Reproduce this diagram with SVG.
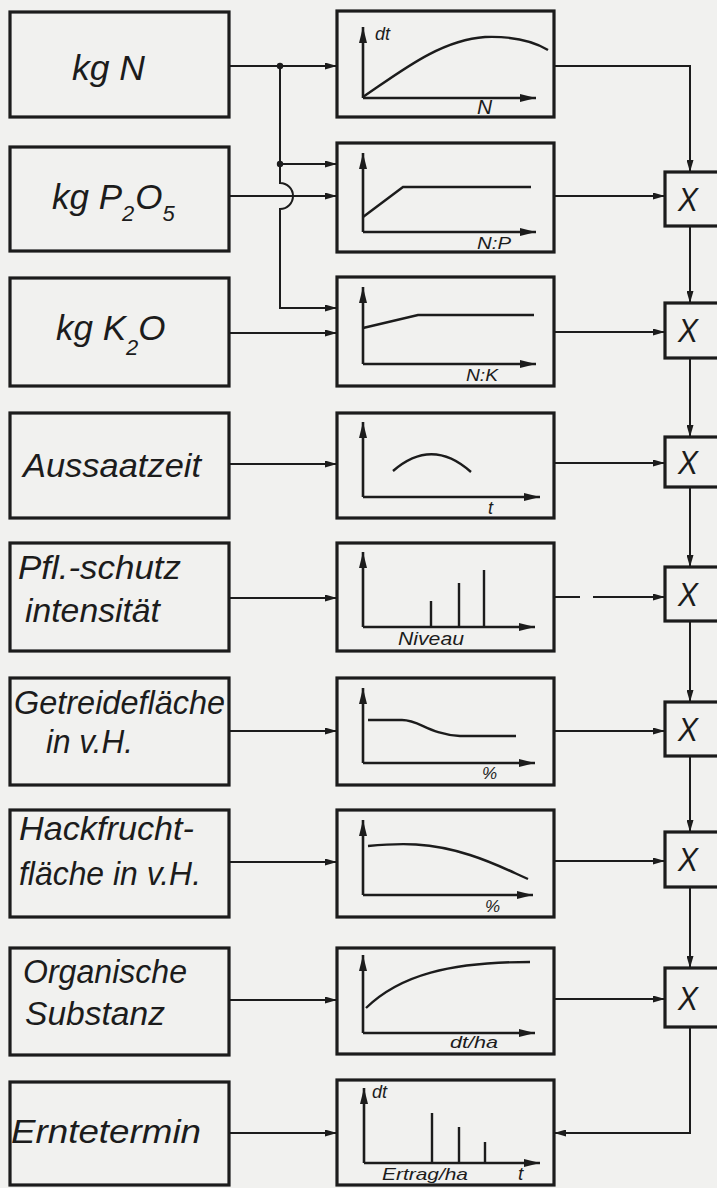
<svg xmlns="http://www.w3.org/2000/svg" width="717" height="1188" viewBox="0 0 717 1188">
<style>
.box{fill:none;stroke:#1c1c1c;stroke-width:3.2}
.t{font-family:"Liberation Sans",Arial,sans-serif;font-style:italic;fill:#1c1c1c}
.big{font-size:35px}
.mid{font-size:33px}
.sm{font-size:16px}
.conn{fill:none;stroke:#1c1c1c;stroke-width:2}
.ax{fill:none;stroke:#1c1c1c;stroke-width:2.6}
.crv{fill:none;stroke:#1c1c1c;stroke-width:2.4}
</style>
<defs>
<marker id="ah" viewBox="0 0 12 7" refX="12" refY="3.5" markerWidth="12" markerHeight="7" markerUnits="userSpaceOnUse" orient="auto"><path d="M0,0 L12,3.5 L0,7 z" fill="#1c1c1c"/></marker>
<marker id="axh" viewBox="0 0 16 8" refX="16" refY="4" markerWidth="16" markerHeight="8" markerUnits="userSpaceOnUse" orient="auto"><path d="M0,0 L16,4 L0,8 z" fill="#1c1c1c"/></marker>
</defs>
<rect width="717" height="1188" fill="#f1f1ef"/>

<g id="connectors">
<path class="conn" d="M229,66 H337" marker-end="url(#ah)"/>
<path class="conn" d="M280,66 V183 A13,13 0 0 1 280,209 V308 H337" marker-end="url(#ah)"/>
<path class="conn" d="M280,164 H337" marker-end="url(#ah)"/>
<circle cx="280" cy="66" r="3.2" fill="#1c1c1c"/>
<circle cx="280" cy="164" r="3.2" fill="#1c1c1c"/>
<path class="conn" d="M229,196 H337" marker-end="url(#ah)"/>
<path class="conn" d="M229,333 H337" marker-end="url(#ah)"/>
<path class="conn" d="M229,464 H337" marker-end="url(#ah)"/>
<path class="conn" d="M229,598 H337" marker-end="url(#ah)"/>
<path class="conn" d="M229,731 H337" marker-end="url(#ah)"/>
<path class="conn" d="M229,862 H337" marker-end="url(#ah)"/>
<path class="conn" d="M229,1000 H337" marker-end="url(#ah)"/>
<path class="conn" d="M229,1133 H337" marker-end="url(#ah)"/>

<path class="conn" d="M554,66 H690 V172" marker-end="url(#ah)"/>
<path class="conn" d="M554,196 H665" marker-end="url(#ah)"/>
<path class="conn" d="M554,332 H665" marker-end="url(#ah)"/>
<path class="conn" d="M554,463 H665" marker-end="url(#ah)"/>
<path class="conn" d="M554,597 H580"/>
<path class="conn" d="M593,597 H665" marker-end="url(#ah)"/>
<path class="conn" d="M554,731 H665" marker-end="url(#ah)"/>
<path class="conn" d="M554,861 H665" marker-end="url(#ah)"/>
<path class="conn" d="M554,999 H665" marker-end="url(#ah)"/>

<path class="conn" d="M690,226 V303" marker-end="url(#ah)"/>
<path class="conn" d="M690,358 V437" marker-end="url(#ah)"/>
<path class="conn" d="M690,487 V567" marker-end="url(#ah)"/>
<path class="conn" d="M690,621 V702" marker-end="url(#ah)"/>
<path class="conn" d="M690,756 V832" marker-end="url(#ah)"/>
<path class="conn" d="M690,887 V968" marker-end="url(#ah)"/>
<path class="conn" d="M690,1027 V1133 H554" marker-end="url(#ah)"/>
</g>

<!-- input boxes -->
<g id="in-n"><rect class="box" x="10" y="12" width="219" height="105"/><text class="t big" x="72" y="80" textLength="73" lengthAdjust="spacingAndGlyphs">kg N</text></g>
<g id="in-p"><rect class="box" x="10" y="147" width="219" height="104"/><text class="t big" x="52" y="209">kg P<tspan dy="12" font-size="22">2</tspan><tspan dy="-12" dx="1">O</tspan><tspan dy="12" font-size="22">5</tspan></text></g>
<g id="in-k"><rect class="box" x="10" y="278" width="219" height="108"/><text class="t big" x="56" y="340">kg K<tspan dy="15" font-size="22">2</tspan><tspan dy="-15">O</tspan></text></g>
<g id="in-aussaat"><rect class="box" x="10" y="413" width="219" height="105"/><text class="t mid" x="23" y="477" textLength="178" lengthAdjust="spacingAndGlyphs">Aussaatzeit</text></g>
<g id="in-pfl"><rect class="box" x="10" y="543" width="219" height="108"/><text class="t mid" x="18" y="579" textLength="163" lengthAdjust="spacingAndGlyphs">Pfl.-schutz</text><text class="t mid" x="25" y="622" textLength="135" lengthAdjust="spacingAndGlyphs">intensität</text></g>
<g id="in-getreide"><rect class="box" x="10" y="678" width="219" height="107"/><text class="t mid" x="14" y="714" textLength="211" lengthAdjust="spacingAndGlyphs">Getreidefläche</text><text class="t mid" x="46" y="753" textLength="87" lengthAdjust="spacingAndGlyphs">in v.H.</text></g>
<g id="in-hack"><rect class="box" x="10" y="810" width="219" height="107"/><text class="t mid" x="19" y="840" textLength="175" lengthAdjust="spacingAndGlyphs">Hackfrucht-</text><text class="t mid" x="19" y="885" textLength="182" lengthAdjust="spacingAndGlyphs">fläche in v.H.</text></g>
<g id="in-org"><rect class="box" x="10" y="948" width="219" height="107"/><text class="t mid" x="23" y="983" textLength="164" lengthAdjust="spacingAndGlyphs">Organische</text><text class="t mid" x="25" y="1025" textLength="140" lengthAdjust="spacingAndGlyphs">Substanz</text></g>
<g id="in-ernte"><rect class="box" x="10" y="1082" width="219" height="103"/><text class="t mid" x="11" y="1143" textLength="190" lengthAdjust="spacingAndGlyphs">Erntetermin</text></g>

<!-- function boxes -->
<g id="f-n"><rect class="box" x="337" y="11" width="217" height="106"/>
<path class="ax" d="M363,98 V27" marker-end="url(#axh)"/><path class="ax" d="M363,98 H536" marker-end="url(#axh)"/>
<path class="crv" d="M363,97 C400,72 440,40 485,37 C515,36 535,42 548,50"/>
<text class="t" font-size="18" x="375" y="40">dt</text><text class="t" font-size="21" x="477" y="114">N</text></g>
<g id="f-np"><rect class="box" x="337" y="143" width="217" height="109"/>
<path class="ax" d="M363,232 V153" marker-end="url(#axh)"/><path class="ax" d="M363,232 H536" marker-end="url(#axh)"/>
<path class="crv" d="M363,217 L403,187 H531"/>
<text class="t sm" x="477" y="249" textLength="34" lengthAdjust="spacingAndGlyphs">N:P</text></g>
<g id="f-nk"><rect class="box" x="337" y="277" width="217" height="109"/>
<path class="ax" d="M363,364 V287" marker-end="url(#axh)"/><path class="ax" d="M363,364 H536" marker-end="url(#axh)"/>
<path class="crv" d="M363,328 L418,315 H534"/>
<text class="t sm" x="466" y="381" textLength="32" lengthAdjust="spacingAndGlyphs">N:K</text></g>
<g id="f-t"><rect class="box" x="337" y="413" width="217" height="105"/>
<path class="ax" d="M363,497 V422" marker-end="url(#axh)"/><path class="ax" d="M363,497 H540" marker-end="url(#axh)"/>
<path class="crv" d="M393,471 Q432,437 471,472"/>
<text class="t" font-size="18" x="488" y="514">t</text></g>
<g id="f-niveau"><rect class="box" x="337" y="543" width="217" height="108"/>
<path class="ax" d="M363,627 V552" marker-end="url(#axh)"/><path class="ax" d="M363,627 H535" marker-end="url(#axh)"/>
<path class="crv" d="M431,627 V601 M459,627 V583 M484,627 V570"/>
<text class="t" font-size="18" x="398" y="645" textLength="66" lengthAdjust="spacingAndGlyphs">Niveau</text></g>
<g id="f-getreide"><rect class="box" x="337" y="678" width="217" height="107"/>
<path class="ax" d="M363,763 V688" marker-end="url(#axh)"/><path class="ax" d="M363,763 H535" marker-end="url(#axh)"/>
<path class="crv" d="M368,720 H402 C420,720 428,734 460,736 H516"/>
<text class="t" font-size="17" x="482" y="779">%</text></g>
<g id="f-hack"><rect class="box" x="337" y="810" width="217" height="107"/>
<path class="ax" d="M363,895 V820" marker-end="url(#axh)"/><path class="ax" d="M363,895 H533" marker-end="url(#axh)"/>
<path class="crv" d="M368,846 C400,843 430,842 470,855 C495,863 512,872 528,879"/>
<text class="t" font-size="17" x="485" y="912">%</text></g>
<g id="f-org"><rect class="box" x="337" y="948" width="217" height="106"/>
<path class="ax" d="M363,1033 V955" marker-end="url(#axh)"/><path class="ax" d="M363,1033 H535" marker-end="url(#axh)"/>
<path class="crv" d="M366,1008 C400,975 450,962 530,962"/>
<text class="t" font-size="17" x="450" y="1048" textLength="48" lengthAdjust="spacingAndGlyphs">dt/ha</text></g>
<g id="f-ernte"><rect class="box" x="337" y="1080" width="217" height="105"/>
<path class="ax" d="M364,1163 V1088" marker-end="url(#axh)"/><path class="ax" d="M364,1163 H540" marker-end="url(#axh)"/>
<path class="crv" d="M432,1163 V1113 M459,1163 V1127 M485,1163 V1142"/>
<text class="t" font-size="18" x="372" y="1098">dt</text>
<text class="t" font-size="17" x="382" y="1180" textLength="86" lengthAdjust="spacingAndGlyphs">Ertrag/ha</text>
<text class="t" font-size="19" x="518" y="1180">t</text></g>

<!-- multiplier boxes -->
<g id="x1"><rect class="box" x="665" y="172" width="56" height="54"/><text class="t mid" x="678" y="211" textLength="20" lengthAdjust="spacingAndGlyphs">X</text></g>
<g id="x2"><rect class="box" x="665" y="303" width="56" height="55"/><text class="t mid" x="678" y="342" textLength="20" lengthAdjust="spacingAndGlyphs">X</text></g>
<g id="x3"><rect class="box" x="665" y="437" width="56" height="50"/><text class="t mid" x="678" y="474" textLength="20" lengthAdjust="spacingAndGlyphs">X</text></g>
<g id="x4"><rect class="box" x="665" y="567" width="56" height="54"/><text class="t mid" x="678" y="606" textLength="20" lengthAdjust="spacingAndGlyphs">X</text></g>
<g id="x5"><rect class="box" x="665" y="702" width="56" height="54"/><text class="t mid" x="678" y="741" textLength="20" lengthAdjust="spacingAndGlyphs">X</text></g>
<g id="x6"><rect class="box" x="665" y="832" width="56" height="55"/><text class="t mid" x="678" y="871" textLength="20" lengthAdjust="spacingAndGlyphs">X</text></g>
<g id="x7"><rect class="box" x="665" y="968" width="56" height="59"/><text class="t mid" x="678" y="1010" textLength="20" lengthAdjust="spacingAndGlyphs">X</text></g>
</svg>
